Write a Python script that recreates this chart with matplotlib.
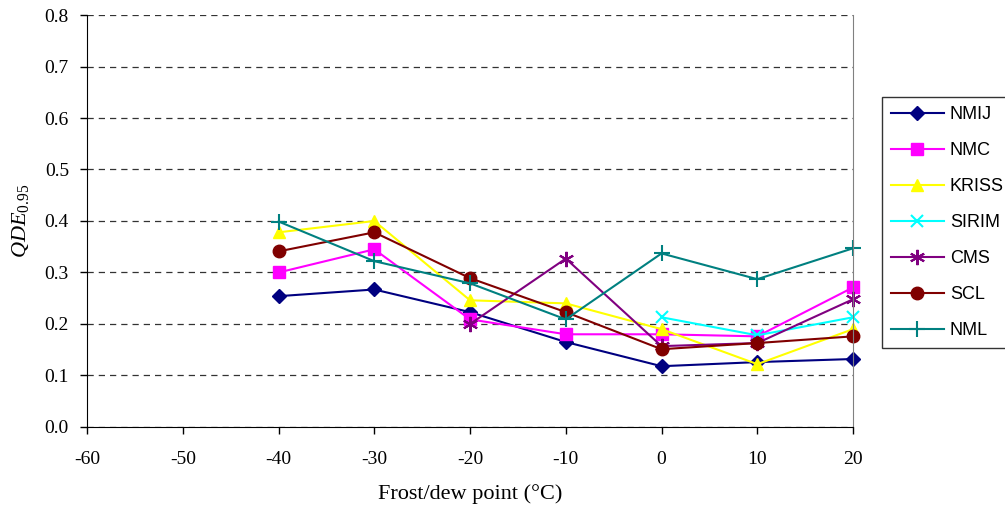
import matplotlib.pyplot as plt
import numpy as np

plt.rcParams['axes.unicode_minus'] = False
plt.rcParams['mathtext.fontset'] = 'custom'
plt.rcParams['mathtext.it'] = 'Liberation Serif:italic'
plt.rcParams['mathtext.rm'] = 'Liberation Serif'

# frost/dew point temperatures
temps = [-40, -30, -20, -10, 0, 10, 20]

nmij = [0.254, 0.267, 0.223, 0.165, 0.118, 0.126, 0.132]
nmc = [0.300, 0.345, 0.209, 0.180, 0.180, 0.176, 0.271]
kriss = [0.378, 0.400, 0.246, 0.240, 0.190, 0.122, 0.190]
sirim = [np.nan, np.nan, np.nan, np.nan, 0.213, 0.178, 0.213]
cms = [np.nan, np.nan, 0.200, 0.327, 0.157, 0.163, 0.248]
scl = [0.341, 0.378, 0.289, 0.223, 0.151, 0.163, 0.176]
nml = [0.399, 0.322, 0.279, 0.209, 0.337, 0.287, 0.347]

series = [
    ('NMIJ', nmij, '#000080', 'D', 7),
    ('NMC', nmc, '#FF00FF', 's', 8),
    ('KRISS', kriss, '#FFFF00', '^', 9),
    ('SIRIM', sirim, '#00FFFF', 'x', 9),
    ('CMS', cms, '#800080', (6, 2, 0), 11),
    ('SCL', scl, '#800000', 'o', 9),
    ('NML', nml, '#008080', '+', 11),
]

fig = plt.figure(figsize=(10.05, 5.14), dpi=100)
ax = fig.add_axes([0.0866, 0.1693, 0.7622, 0.8015])

for name, vals, col, mk, ms in series:
    ax.plot(temps, vals, color=col, marker=mk, markersize=ms, linewidth=1.5,
            markeredgewidth=1.5 if mk in ('x', '+', (6, 2, 0)) else 1,
            label=name, clip_on=False)

ax.set_xlim(-60, 20)
ax.set_ylim(0, 0.8)
ax.set_xticks(range(-60, 21, 10))
ax.set_yticks(np.arange(0, 0.81, 0.1))
ax.set_yticklabels(['%.1f' % v for v in np.arange(0, 0.81, 0.1)])
ax.yaxis.grid(True, linestyle=(0, (5, 4)), color='#333333', linewidth=0.9)
ax.set_axisbelow(True)

for lab in ax.get_xticklabels() + ax.get_yticklabels():
    lab.set_family('Liberation Serif')
    lab.set_fontsize(14)
ax.tick_params(direction='out', length=5, width=1)
ax.tick_params(axis='x', pad=12)
ax.tick_params(axis='y', pad=8)

ax.spines['top'].set_visible(False)
ax.spines['right'].set_color('#808080')
ax.spines['left'].set_color('black')
ax.spines['bottom'].set_color('black')

ax.set_xlabel('Frost/dew point (°C)', family='Liberation Serif', fontsize=16, labelpad=12)
ax.set_ylabel(r'$QDE_{\mathit{0.95}}$', fontsize=16, labelpad=10)

leg = ax.legend(loc='upper left', bbox_to_anchor=(1.038, 0.80), frameon=True,
                fancybox=False, edgecolor='black', prop={'family': 'Liberation Sans', 'size': 13},
                handlelength=2.9, handletextpad=0.35, labelspacing=1.05,
                borderpad=0.5, borderaxespad=0)
leg.get_frame().set_linewidth(1)

fig.savefig('out.png', dpi=100)
